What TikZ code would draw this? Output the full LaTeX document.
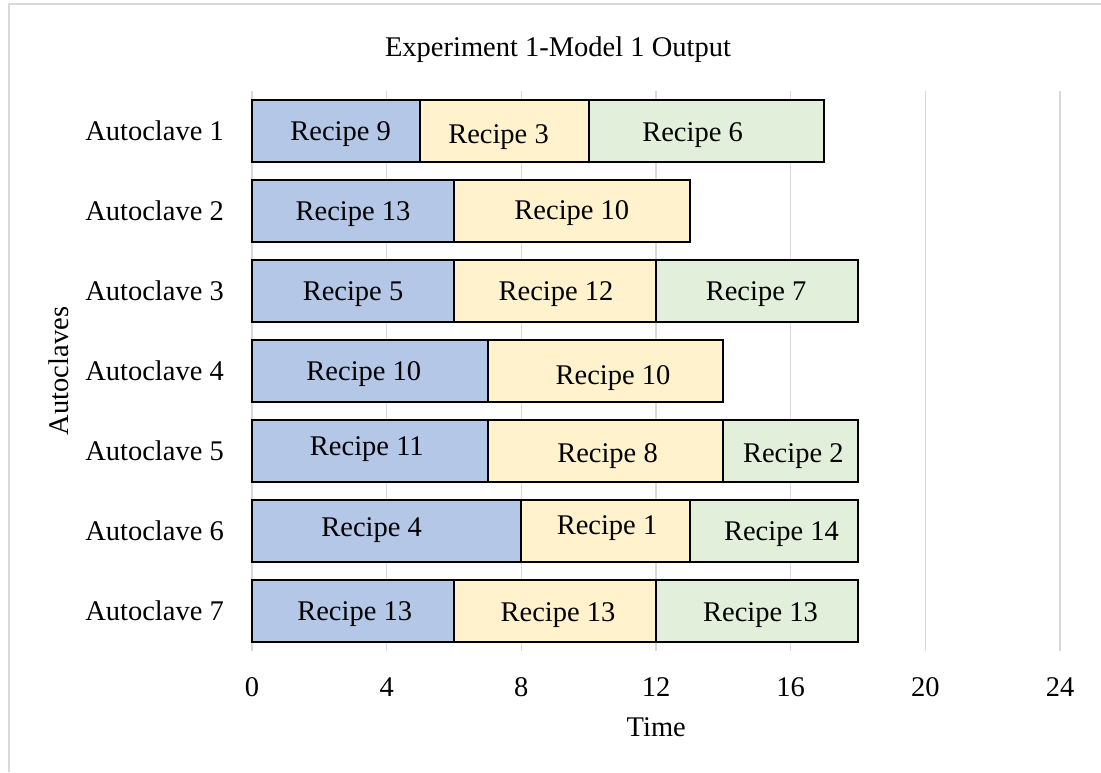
\documentclass[tikz,border=0pt]{standalone}
\usepackage{fontspec}
\setmainfont{Liberation Serif}
\definecolor{barblue}{HTML}{B4C7E7}
\definecolor{baryellow}{HTML}{FFF2CC}
\definecolor{bargreen}{HTML}{E2EFDA}
\definecolor{gridgray}{HTML}{D9D9D9}
\tikzset{
  segbox/.style={draw=black, line width=2pt, minimum height=62pt, inner sep=0pt, outer sep=0pt},
  reclabel/.style={anchor=base, inner sep=0pt, font=\chartfont},
  rowlabel/.style={anchor=base east, inner sep=0pt, font=\chartfont},
  ticklabel/.style={anchor=base, inner sep=0pt, font=\chartfont},
  gridline/.style={draw=gridgray, line width=1.6pt},
  frameline/.style={draw=gridgray, line width=2pt},
}
\newcommand\chartfont{\fontsize{28.5}{34}\selectfont}
% one bar segment: name, row, start, end, colour, label, label dx, label dy
\newcommand\ganttseg[8]{%
  \pgfmathsetmacro\segx{252+33.667*(#3+#4)/2}%
  \pgfmathsetmacro\segw{33.667*(#4-#3)}%
  \pgfmathsetmacro\segy{131+80*(#2-1)}%
  \node[segbox, fill=#5, minimum width=\segw pt] (#1) at (\segx,\segy) {};
  \node[reclabel] (#1t) at ([shift={(#7,9.4+#8)}]#1.center) {#6};
}
\begin{document}
\begin{tikzpicture}[x=1pt, y=-1pt]
\useasboundingbox (0,0) rectangle (1101,772);
\fill[white] (0,0) rectangle (1101,772);
% chart area frame
\draw[frameline] (8.7,772) -- (8.7,4.3) -- (1101,4.3);
% title
\node[ticklabel] (title) at (558,56.7) {Experiment 1-Model 1 Output};
% vertical gridlines and tick labels
\foreach \k/\lab in {0/0,1/4,2/8,3/12,4/16,5/20,6/24}{
  \coordinate (gtop\k) at (252+134.667*\k,91);
  \coordinate (gbot\k) at (252+134.667*\k,651);
  \draw[gridline] (gtop\k) -- (gbot\k);
  \node[ticklabel] (tick\k) at (252+134.667*\k,696.2) {\lab};
}
\node[ticklabel] (xlabel) at (656.3,736.5) {Time};
\node[anchor=base, inner sep=0pt, font=\chartfont, rotate=90] (ylabel) at (68,371) {Autoclaves};
% row labels
\foreach \r in {1,...,7}{
  \node[rowlabel] (row\r) at (224,140.4+80*\r-80) {Autoclave \r};
}
% bars
\ganttseg{a1s1}{1}{0}{5}{barblue}{Recipe 9}{4.5}{0}
\ganttseg{a1s2}{1}{5}{10}{baryellow}{Recipe 3}{-6}{3}
\ganttseg{a1s3}{1}{10}{17}{bargreen}{Recipe 6}{-14}{1.5}
\ganttseg{a2s1}{2}{0}{6}{barblue}{Recipe 13}{0}{0}
\ganttseg{a2s2}{2}{6}{13}{baryellow}{Recipe 10}{0}{-1}
\ganttseg{a3s1}{3}{0}{6}{barblue}{Recipe 5}{0}{0}
\ganttseg{a3s2}{3}{6}{12}{baryellow}{Recipe 12}{1}{0}
\ganttseg{a3s3}{3}{12}{18}{bargreen}{Recipe 7}{-1}{0}
\ganttseg{a4s1}{4}{0}{7}{barblue}{Recipe 10}{-6}{0}
\ganttseg{a4s2}{4}{7}{14}{baryellow}{Recipe 10}{7.5}{4}
\ganttseg{a5s1}{5}{0}{7}{barblue}{Recipe 11}{-3}{-4.5}
\ganttseg{a5s2}{5}{7}{14}{baryellow}{Recipe 8}{2}{2}
\ganttseg{a5s3}{5}{14}{18}{bargreen}{Recipe 2}{2.6}{2}
\ganttseg{a6s1}{6}{0}{8}{barblue}{Recipe 4}{-15}{-4}
\ganttseg{a6s2}{6}{8}{13}{baryellow}{Recipe 1}{1.5}{-6}
\ganttseg{a6s3}{6}{13}{18}{bargreen}{Recipe 14}{7.6}{0}
\ganttseg{a7s1}{7}{0}{6}{barblue}{Recipe 13}{1.7}{0}
\ganttseg{a7s2}{7}{6}{12}{baryellow}{Recipe 13}{3}{1.5}
\ganttseg{a7s3}{7}{12}{18}{bargreen}{Recipe 13}{3.5}{1.5}
\end{tikzpicture}
\end{document}
